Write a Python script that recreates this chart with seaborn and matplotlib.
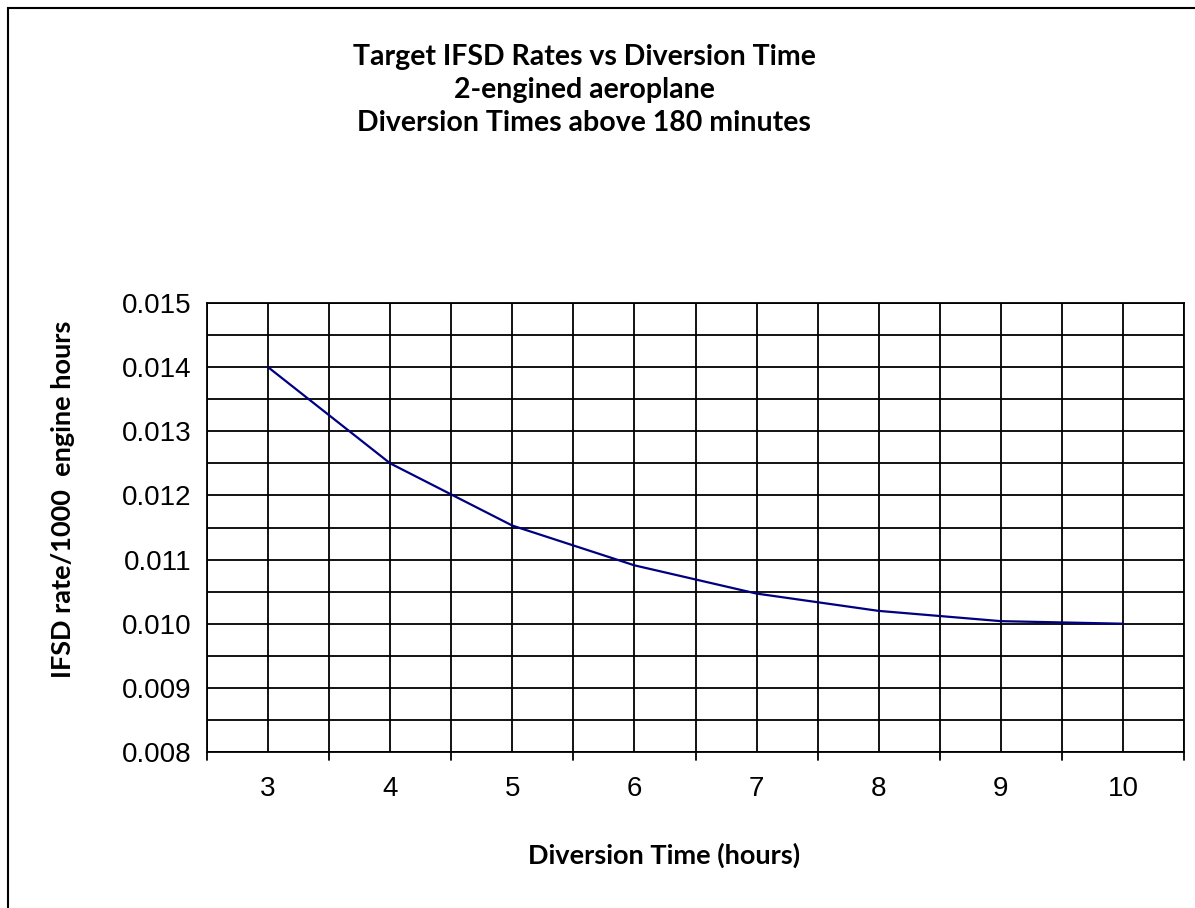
import matplotlib
matplotlib.use("Agg")
import matplotlib.pyplot as plt
import seaborn as sns
import pandas as pd
from matplotlib.patches import Rectangle
from matplotlib.ticker import MultipleLocator, FormatStrFormatter

# valores
horas = [3, 4, 5, 6, 7, 8, 9, 10]
taxa_ifsd = [0.0140, 0.0125, 0.01153, 0.01091, 0.01047, 0.0102, 0.01004, 0.0100]
titulo = "Target IFSD Rates vs Diversion Time\n2-engined aeroplane\nDiversion Times above 180 minutes"
rotulo_x = "Diversion Time (hours)"
rotulo_y = "IFSD rate/1000  engine hours"

dados = pd.DataFrame({"horas": horas, "taxa": taxa_ifsd})

sns.set_style("white")
plt.rcParams["font.family"] = ["Liberation Sans", "DejaVu Sans"]
plt.rcParams["text.color"] = "black"
plt.rcParams["xtick.color"] = "black"
plt.rcParams["ytick.color"] = "black"
plt.rcParams["axes.labelcolor"] = "black"

fig = plt.figure(figsize=(11.95, 9.08), dpi=100)
ax = fig.add_axes([207 / 1195, 1 - 752 / 908, (1184 - 207) / 1195, (752 - 303) / 908])

sns.lineplot(data=dados, x="horas", y="taxa", color="#000080", linewidth=1.6, ax=ax)

ax.set_xlim(2.5, 10.5)
ax.set_ylim(0.008, 0.015)

# eixo x: rotulos no centro, marcas nas bordas das categorias
ax.xaxis.set_major_locator(MultipleLocator(1))
ax.xaxis.set_minor_locator(MultipleLocator(0.5))
ax.yaxis.set_major_locator(MultipleLocator(0.001))
ax.yaxis.set_minor_locator(MultipleLocator(0.0005))
ax.yaxis.set_major_formatter(FormatStrFormatter("%.3f"))

ax.grid(True, which="both", color="black", linewidth=1.3)
ax.set_axisbelow(True)

ax.tick_params(axis="x", which="major", length=0, pad=17, labelsize=20)
ax.tick_params(axis="x", which="minor", length=0)
ax.tick_params(axis="y", which="major", direction="out", length=8, width=1.3, pad=3, labelsize=20)
ax.tick_params(axis="y", which="minor", length=0)

# marcas nas bordas das categorias
for xb in [2.5, 3.5, 4.5, 5.5, 6.5, 7.5, 8.5, 9.5, 10.5]:
    ax.plot([xb, xb], [0, -0.018], transform=ax.get_xaxis_transform(), color="black",
            linewidth=1.3, clip_on=False)

for s in ax.spines.values():
    s.set_color("black")
    s.set_linewidth(1.3)

ax.set_xlabel(rotulo_x, fontsize=19.5, fontweight="bold", family="Lato")
ax.set_ylabel(rotulo_y, fontsize=19.5, fontweight="bold", family="Lato")
ax.xaxis.set_label_coords(0.468, -0.203)
ax.yaxis.set_label_coords(-0.135, 0.563)

fig.text(584 / 1195, 1 - 90 / 908, titulo, ha="center", va="center", fontsize=20.5,
         fontweight="bold", family="Lato", linespacing=1.32)

fig.add_artist(Rectangle((8 / 1195, -0.1), 2, 1.1 - 8 / 908, transform=fig.transFigure,
                         fill=False, edgecolor="black", linewidth=1.5))

plt.savefig("out.png", dpi=100)
